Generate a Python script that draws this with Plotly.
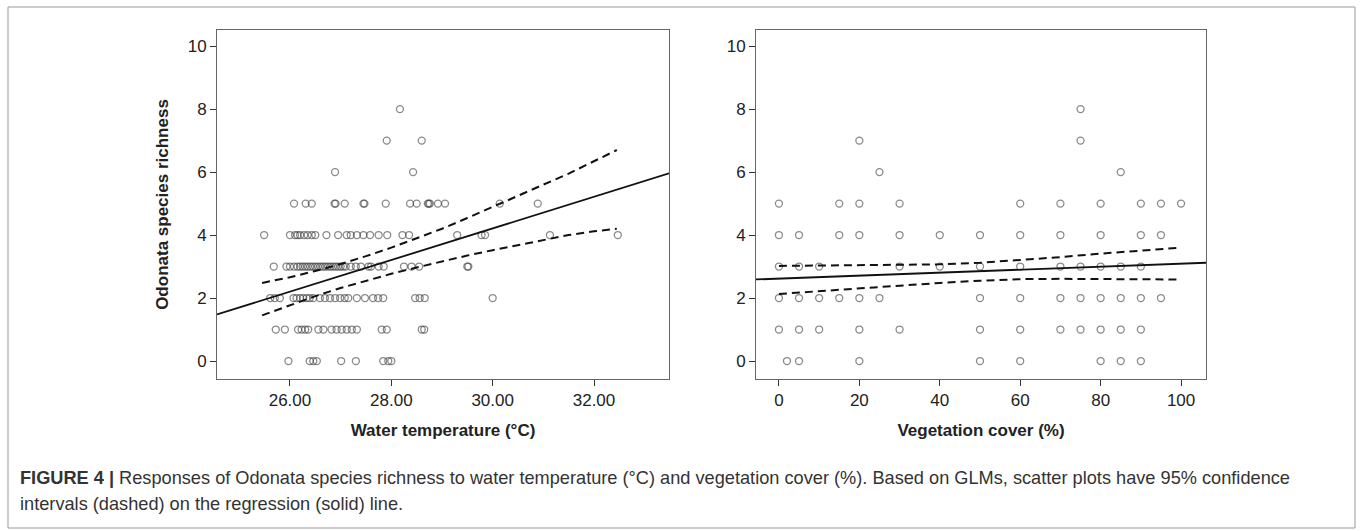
import plotly.graph_objects as go

# ---------------- data ----------------
# Left panel: water temperature (x) per richness level (y)
temp_rows = {
    0: [25.97, 26.39, 26.46, 26.53, 27.01, 27.30, 27.84, 27.94, 28.0],
    1: [25.72, 25.90, 26.16, 26.23, 26.30, 26.36, 26.56, 26.66, 26.82, 26.92, 27.02,
        27.12, 27.22, 27.32, 27.81, 27.91, 28.60, 28.65],
    2: [25.61, 25.70, 25.80, 26.07, 26.13, 26.20, 26.26, 26.33, 26.39, 26.46, 26.59,
        26.69, 26.79, 26.89, 26.99, 27.08, 27.15, 27.32, 27.48, 27.64, 27.74, 27.84,
        28.47, 28.56, 28.66, 30.0],
    3: [25.68, 25.93, 26.0, 26.08, 26.15, 26.2, 26.25, 26.3, 26.35, 26.4, 26.45, 26.5,
        26.55, 26.6, 26.65, 26.7, 26.75, 26.8, 26.85, 26.9, 26.95, 27.0, 27.05, 27.1,
        27.2, 27.3, 27.4, 27.55, 27.6, 27.75, 27.85, 28.25, 28.4, 28.55, 29.5, 29.52],
    4: [25.49, 26.0, 26.1, 26.15, 26.2, 26.28, 26.35, 26.43, 26.5, 26.72, 26.95, 27.12,
        27.2, 27.32, 27.45, 27.58, 27.75, 27.92, 28.22, 28.35, 29.3, 29.78, 29.85,
        31.13, 32.47],
    5: [26.08, 26.31, 26.43, 26.88, 26.9, 27.08, 27.45, 27.47, 27.89, 28.37, 28.5,
        28.72, 28.74, 28.76, 28.92, 29.06, 30.14, 30.89],
    6: [26.89, 28.43],
    7: [27.91, 28.6],
    8: [28.17],
}
temp_fit_x = [24.56, 33.48]
temp_fit_y = [1.48, 5.96]
temp_ci_x = [25.45, 26.0, 26.5, 27.0, 27.5, 28.0, 28.5, 29.0, 29.5, 30.0, 30.5, 31.0,
             31.5, 32.0, 32.45]
temp_ci_upper = [2.48, 2.66, 2.86, 3.08, 3.33, 3.6, 3.9, 4.2, 4.54, 4.9, 5.25, 5.6,
                 5.95, 6.35, 6.7]
temp_ci_lower = [1.45, 1.78, 2.06, 2.32, 2.55, 2.77, 2.97, 3.17, 3.35, 3.52, 3.68,
                 3.86, 4.0, 4.12, 4.2]

# Right panel: vegetation cover (x) per richness level (y)
veg_rows = {
    0: [2, 5, 20, 50, 60, 80, 85, 90],
    1: [0, 5, 10, 20, 30, 50, 60, 70, 75, 80, 85, 90],
    2: [0, 5, 10, 15, 20, 25, 50, 60, 70, 75, 80, 85, 90, 95],
    3: [0, 5, 10, 30, 40, 50, 60, 70, 75, 80, 85, 90],
    4: [0, 5, 15, 20, 30, 40, 50, 60, 70, 80, 90, 95],
    5: [0, 15, 20, 30, 60, 70, 80, 90, 95, 100],
    6: [25, 85],
    7: [20, 75],
    8: [75],
}
veg_fit_x = [-5.7, 106.2]
veg_fit_y = [2.59, 3.12]
veg_ci_x = [0, 10, 20, 30, 40, 50, 60, 70, 80, 90, 100]
veg_ci_upper = [3.02, 3.03, 3.04, 3.05, 3.07, 3.12, 3.2, 3.3, 3.41, 3.5, 3.6]
veg_ci_lower = [2.13, 2.22, 2.31, 2.4, 2.48, 2.55, 2.6, 2.61, 2.61, 2.6, 2.59]

y_ticks = [0, 2, 4, 6, 8, 10]
temp_ticks = [26, 28, 30, 32]
veg_ticks = [0, 20, 40, 60, 80, 100]

caption_line1 = ("<b>FIGURE 4 |</b> Responses of Odonata species richness to water temperature (°C) "
                 "and vegetation cover (%). Based on GLMs, scatter plots have 95% confidence")
caption_line2 = "intervals (dashed) on the regression (solid) line."

# ---------------- figure ----------------
W, H = 1363, 531
FONT = "Liberation Sans, Arial, sans-serif"
fig = go.Figure()

def add_panel(rows, fit_x, fit_y, ci_x, ci_u, ci_l, xa, ya):
    xs, ys = [], []
    for yv, xl in rows.items():
        xs += xl
        ys += [yv] * len(xl)
    fig.add_trace(go.Scatter(x=xs, y=ys, mode="markers", xaxis=xa, yaxis=ya,
                             marker=dict(symbol="circle-open", size=7,
                                         color="rgba(60,60,60,0.6)", line=dict(width=1.3)),
                             showlegend=False, hoverinfo="skip"))
    for yy in (ci_u, ci_l):
        fig.add_trace(go.Scatter(x=ci_x, y=yy, mode="lines", xaxis=xa, yaxis=ya,
                                 line=dict(color="#111", width=2, dash="8px,5px"),
                                 showlegend=False, hoverinfo="skip"))
    fig.add_trace(go.Scatter(x=fit_x, y=fit_y, mode="lines", xaxis=xa, yaxis=ya,
                             line=dict(color="#111", width=1.8),
                             showlegend=False, hoverinfo="skip"))

add_panel(temp_rows, temp_fit_x, temp_fit_y, temp_ci_x, temp_ci_upper, temp_ci_lower, "x", "y")
add_panel(veg_rows, veg_fit_x, veg_fit_y, veg_ci_x, veg_ci_upper, veg_ci_lower, "x2", "y2")

ydom = [(H - 379) / H, (H - 30) / H]
yrange = [-0.57, 10.51]
common_axis = dict(showgrid=False, zeroline=False, showline=True, mirror=True,
                   linecolor="#666", linewidth=1, ticks="outside", ticklen=6,
                   tickcolor="#333", tickwidth=1.2,
                   tickfont=dict(family=FONT, size=17, color="#222"))
title_font = dict(family=FONT, size=17, color="#222")

fig.update_layout(
    width=W, height=H, margin=dict(l=0, r=0, t=0, b=0),
    paper_bgcolor="white", plot_bgcolor="white",
    font=dict(family=FONT, color="#222"),
    xaxis=dict(domain=[217 / W, 669 / W], range=[24.56, 33.48], tickvals=temp_ticks,
               tickformat=".2f", anchor="y",
               title=dict(text="<b>Water temperature (°C)</b>", standoff=14, font=title_font),
               **common_axis),
    yaxis=dict(domain=ydom, range=yrange, tickvals=y_ticks, anchor="x",
               title=dict(text="<b>Odonata species richness</b>", standoff=14, font=title_font),
               **common_axis),
    xaxis2=dict(domain=[756 / W, 1206 / W], range=[-5.7, 106.2], tickvals=veg_ticks,
                anchor="y2",
                title=dict(text="<b>Vegetation cover (%)</b>", standoff=14, font=title_font),
                **common_axis),
    yaxis2=dict(domain=ydom, range=yrange, tickvals=y_ticks, anchor="x2", **common_axis),
)

# outer frame
fig.add_shape(type="rect", xref="paper", yref="paper",
              x0=8 / W, x1=1355 / W, y0=(H - 528) / H, y1=(H - 7) / H,
              line=dict(color="#999", width=1), fillcolor="rgba(0,0,0,0)", layer="below")

fig.add_annotation(text=caption_line1, xref="paper", yref="paper", x=18 / W, y=(H - 478) / H,
                   xanchor="left", yanchor="middle", showarrow=False, align="left",
                   font=dict(family=FONT, size=18.2, color="#333"))
fig.add_annotation(text=caption_line2, xref="paper", yref="paper", x=18 / W, y=(H - 504) / H,
                   xanchor="left", yanchor="middle", showarrow=False, align="left",
                   font=dict(family=FONT, size=18.2, color="#333"))

fig.write_html("out.html")
